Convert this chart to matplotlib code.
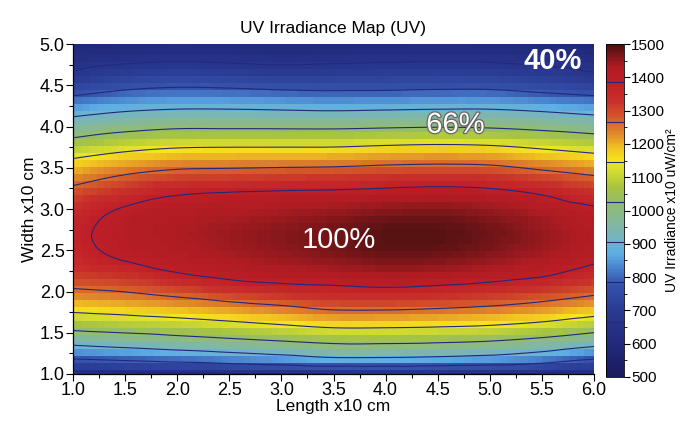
import numpy as np
import matplotlib
matplotlib.use("Agg")
import matplotlib.pyplot as plt
import matplotlib.tri as mtri
import matplotlib.patheffects as pe
from matplotlib.colors import LinearSegmentedColormap
from matplotlib.ticker import MultipleLocator, FormatStrFormatter

plt.rcParams['font.family'] = ['Liberation Sans', 'DejaVu Sans']

# ---- data ----
lengths = [1.0, 1.5, 2.0, 2.5, 3.0, 3.5, 4.0, 4.5, 5.0, 5.5, 6.0]
widths = [1.0, 1.2, 1.4, 1.6, 1.8, 2.0, 2.2, 2.4, 2.6, 2.8, 3.0,
          3.2, 3.4, 3.6, 3.8, 4.0, 4.2, 4.4, 4.6, 4.8, 5.0]

# irradiance (x10 uW/cm2) along width, one list per length position
irr_L10 = [640, 799, 940, 1070, 1170, 1252, 1314, 1352, 1369, 1365, 1339,
           1292, 1223, 1150, 1055, 960, 867, 772, 686, 633, 590]
irr_L15 = [645, 815, 961, 1086, 1184, 1267, 1334, 1391, 1408, 1408, 1391,
           1337, 1271, 1188, 1094, 992, 896, 803, 723, 652, 600]
irr_L20 = [650, 833, 983, 1102, 1203, 1294, 1377, 1412, 1428, 1428, 1412,
           1376, 1299, 1212, 1115, 1011, 910, 817, 735, 660, 610]
irr_L25 = [655, 854, 1004, 1123, 1225, 1327, 1402, 1431, 1444, 1441, 1422,
           1386, 1305, 1217, 1119, 1011, 910, 814, 729, 655, 605]
irr_L30 = [660, 877, 1025, 1146, 1249, 1349, 1414, 1446, 1459, 1455, 1432,
           1392, 1311, 1220, 1119, 1010, 905, 805, 719, 648, 600]
irr_L35 = [665, 905, 1045, 1168, 1276, 1359, 1422, 1459, 1474, 1469, 1443,
           1396, 1315, 1223, 1119, 1009, 900, 800, 721, 653, 603]
irr_L40 = [665, 905, 1045, 1168, 1277, 1366, 1432, 1472, 1489, 1484, 1455,
           1404, 1324, 1233, 1129, 1015, 905, 801, 725, 658, 608]
irr_L45 = [665, 896, 1039, 1162, 1268, 1357, 1427, 1469, 1489, 1485, 1459,
           1410, 1331, 1238, 1135, 1020, 910, 806, 729, 660, 610]
irr_L50 = [660, 881, 1026, 1151, 1254, 1341, 1413, 1454, 1473, 1471, 1447,
           1402, 1324, 1233, 1129, 1015, 910, 806, 727, 658, 608]
irr_L55 = [655, 849, 997, 1127, 1230, 1316, 1392, 1430, 1449, 1446, 1423,
           1376, 1296, 1207, 1108, 999, 895, 790, 711, 646, 598]
irr_L60 = [640, 801, 954, 1089, 1198, 1283, 1348, 1399, 1418, 1416, 1393,
           1334, 1267, 1181, 1083, 978, 874, 772, 683, 629, 585]

contour_levels = [665, 785, 905, 1025, 1145, 1265, 1385]
cbar_ticks = [500, 600, 700, 800, 900, 1000, 1100, 1200, 1300, 1400, 1500]
x_ticks = [1.0, 1.5, 2.0, 2.5, 3.0, 3.5, 4.0, 4.5, 5.0, 5.5, 6.0]
y_ticks = [1.0, 1.5, 2.0, 2.5, 3.0, 3.5, 4.0, 4.5, 5.0]
labels = [("100%", 3.55, 2.62), ("66%", 4.67, 4.02), ("40%", 5.6, 4.8)]

# ---- build field ----
Z = np.column_stack([irr_L10, irr_L15, irr_L20, irr_L25, irr_L30, irr_L35,
                     irr_L40, irr_L45, irr_L50, irr_L55, irr_L60]).astype(float)
SX = 0.4  # make grid cells square for the interpolator
LL, WW = np.meshgrid(lengths, widths)
tri = mtri.Triangulation(LL.ravel() * SX, WW.ravel())
interp = mtri.CubicTriInterpolator(tri, Z.ravel(), kind='geom')

# colormap
stops = [(0.00, '#1b1b5c'), (0.10, '#222a7c'), (0.20, '#2a3b94'),
         (0.28, '#3553ac'), (0.33, '#4a86d0'), (0.37, '#5eaee6'),
         (0.41, '#72b4c8'), (0.47, '#86b898'), (0.52, '#92bc70'),
         (0.57, '#a8c440'), (0.62, '#d4dc30'), (0.65, '#f4e61e'),
         (0.69, '#f0c020'), (0.73, '#e08a2a'), (0.78, '#d45a2a'),
         (0.83, '#c8302a'), (0.88, '#c01f28'), (0.93, '#b01c22'),
         (0.96, '#8a181c'), (1.00, '#4a1010')]
cmap = LinearSegmentedColormap.from_list('uvjet', stops)

fig = plt.figure(figsize=(6.8, 4.22), dpi=100)
ax = fig.add_axes([73/680, 48/422, 521/680, 330/422])

# blocky cells (library cubic interpolation of the grid above)
nx, ny = 76, 48
xc = np.linspace(1.0, 6.0, nx)
yc = np.linspace(1.0, 5.0, ny)
XC, YC = np.meshgrid(np.clip(xc, 1.0001, 5.9999), np.clip(yc, 1.0001, 4.9999))
ZC = interp(XC * SX, YC)
mesh = ax.pcolormesh(xc, yc, ZC, cmap=cmap, vmin=500, vmax=1500,
                     shading='nearest', rasterized=True)

# smooth contour lines
xf = np.linspace(1.0001, 5.9999, 300)
yf = np.linspace(1.0001, 4.9999, 240)
XF, YF = np.meshgrid(xf, yf)
ZF = interp(XF * SX, YF)
cs = ax.contour(XF, YF, ZF, levels=contour_levels, colors='#24287a',
                linewidths=0.8)

ax.set_xlim(1.0, 6.0)
ax.set_ylim(1.0, 5.0)
ax.set_xticks(x_ticks)
ax.set_yticks(y_ticks)
ax.xaxis.set_minor_locator(MultipleLocator(0.25))
ax.yaxis.set_minor_locator(MultipleLocator(0.25))
ax.xaxis.set_major_formatter(FormatStrFormatter('%.1f'))
ax.yaxis.set_major_formatter(FormatStrFormatter('%.1f'))
ax.tick_params(which='major', length=5, width=0.8, labelsize=13, pad=1)
ax.tick_params(which='minor', length=3, width=0.8)
for s in ['top', 'right']:
    ax.spines[s].set_visible(False)
for s in ['left', 'bottom']:
    ax.spines[s].set_linewidth(0.9)

ax.set_xlabel('Length x10 cm', fontsize=12.5, labelpad=0)
ax.set_ylabel('Width x10 cm', fontsize=12.5, labelpad=2)
ax.set_title('UV Irradiance Map (UV)', fontsize=12.5, pad=8)

for txt, lx, wy in labels:
    if txt == '100%':
        t = ax.text(lx, wy, txt, color='white', fontsize=21, ha='center',
                    va='center')
    elif txt == '66%':
        t = ax.text(lx, wy, txt, color='white', fontsize=21, ha='center',
                    va='center')
        t.set_path_effects([pe.withStroke(linewidth=1.8, foreground='#666666')])
    else:
        t = ax.text(lx, wy, txt, color='white', fontsize=21, ha='center',
                    va='center', fontweight='bold')

# colorbar
cax = fig.add_axes([606/680, 45/422, 18/680, 333/422])
cb = fig.colorbar(mesh, cax=cax)
cb.set_ticks(cbar_ticks)
cb.ax.yaxis.set_minor_locator(MultipleLocator(50))
cb.ax.tick_params(which='major', length=4, width=0.8, labelsize=11, pad=1)
cb.ax.tick_params(which='minor', length=2, width=0.6)
cb.outline.set_linewidth(0.6)
cb.add_lines(cs)
cb.set_label('UV Irradiance x10 uW/cm²', fontsize=10, labelpad=0)

fig.savefig('out.png', dpi=100)
